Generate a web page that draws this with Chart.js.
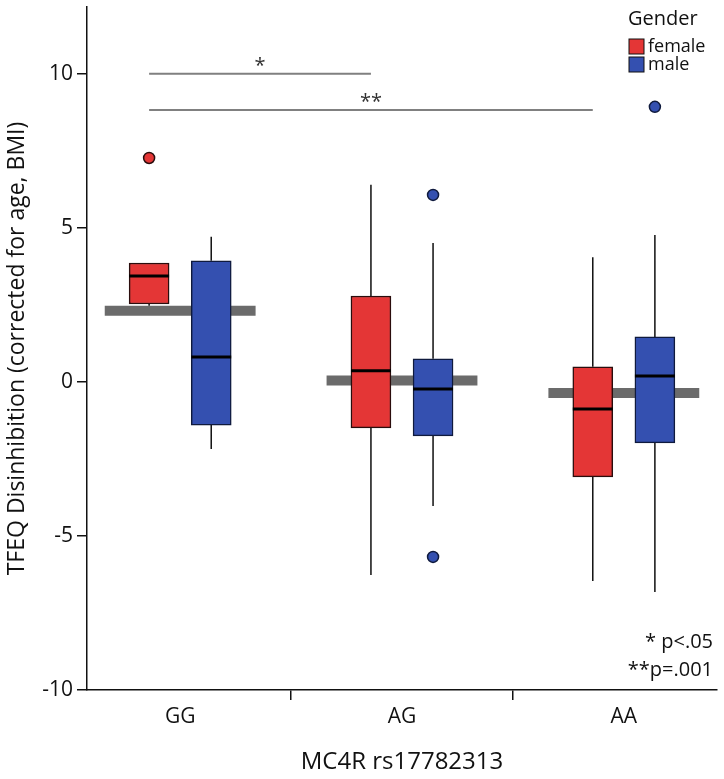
<!DOCTYPE html>
<html>
<head>
<meta charset="utf-8">
<script src="https://cdn.jsdelivr.net/npm/chart.js@4.4.1/dist/chart.umd.min.js"></script>
<style>
    html, body { margin: 0; padding: 0; background: #fff; }
    #chart { display: block; }
</style>
</head>
<body>
<canvas id="chart" width="724" height="779"></canvas>
<script>
// genotype groups
const categories = ['GG', 'AG', 'AA'];
const yTickValues = [-10, -5, 0, 5, 10];

// female boxes
const femaleMin = [2.47, -6.27, -6.46];
const femaleQ1 = [2.53, -1.49, -3.08];
const femaleMedian = [3.44, 0.36, -0.88];
const femaleQ3 = [3.86, 2.79, 0.49];
const femaleMax = [3.86, 6.40, 4.05];
const femaleOutliers = [[7.27], [], []];

// male boxes
const maleMin = [-2.18, -4.03, -6.82];
const maleQ1 = [-1.40, -1.75, -1.98];
const maleMedian = [0.81, -0.23, 0.19];
const maleQ3 = [3.93, 0.75, 1.46];
const maleMax = [4.71, 4.51, 4.77];
const maleOutliers = [[], [6.07, -5.68], [8.93]];

// grey group bars
const groupMeans = [2.31, 0.05, -0.36];

// significance brackets (female GG vs female AG / AA)
const sigFrom = [0, 0];
const sigTo = [1, 2];
const sigLevel = [10.0, 8.83];
const sigLabel = ['*', '**'];
const pNotes = ['* p<.05', '**p=.001'];

const RED = '#e43636';
const BLUE = '#3450b0';
const FONT = "'Open Sans', 'DejaVu Sans', sans-serif";
const SHIFT = 0.14, HALF = 0.09, BAR_HALF = 0.34;

const pos = (i, s) => i + 1 + s;

function boxData(q1, q3, s) {
    return categories.map((c, i) => ({ x: pos(i, s), y: [q1[i], q3[i]] }));
}
function whiskerData(lo, q1, q3, hi, s) {
    const out = [];
    categories.forEach((c, i) => {
        out.push({ x: pos(i, s), y: q3[i] }, { x: pos(i, s), y: hi[i] }, { x: pos(i, s), y: null });
        out.push({ x: pos(i, s), y: q1[i] }, { x: pos(i, s), y: lo[i] }, { x: pos(i, s), y: null });
    });
    return out;
}
function hSegs(vals, s, half) {
    const out = [];
    vals.forEach((v, i) => {
        out.push({ x: pos(i, s) - half, y: v }, { x: pos(i, s) + half, y: v }, { x: pos(i, s), y: null });
    });
    return out;
}
function outlierData(list, s) {
    const out = [];
    list.forEach((arr, i) => arr.forEach(v => out.push({ x: pos(i, s), y: v })));
    return out;
}
const sigData = [];
sigFrom.forEach((f, k) => {
    sigData.push({ x: pos(f, -SHIFT), y: sigLevel[k] }, { x: pos(sigTo[k], -SHIFT), y: sigLevel[k] }, { x: 1, y: null });
});

const segLine = (data, color, width, order) => ({
    type: 'line', data, borderColor: color, borderWidth: width, pointRadius: 0,
    spanGaps: false, tension: 0, fill: false, order, borderCapStyle: 'butt'
});

const overlay = {
    id: 'overlay',
    afterDraw(chart) {
        const { ctx, scales: { x, y } } = chart;
        ctx.save();
        // star labels above brackets
        ctx.fillStyle = '#333';
        ctx.font = '20px ' + FONT;
        ctx.textAlign = 'center';
        ctx.textBaseline = 'bottom';
        sigFrom.forEach((f, k) => {
            const mid = (pos(f, -SHIFT) + pos(sigTo[k], -SHIFT)) / 2;
            ctx.fillText(sigLabel[k], x.getPixelForValue(mid), y.getPixelForValue(sigLevel[k]) + 2);
        });
        // p-value notes
        ctx.fillStyle = '#111';
        ctx.font = '20px ' + FONT;
        ctx.textAlign = 'right';
        ctx.textBaseline = 'middle';
        pNotes.forEach((t, k) => ctx.fillText(t, chart.chartArea.right - 4, chart.chartArea.bottom - 48 + k * 28));
        // legend
        const lx = chart.chartArea.right - 89;
        ctx.textAlign = 'left';
        ctx.font = '20px ' + FONT;
        ctx.fillText('Gender', lx, 19);
        ctx.font = '18px ' + FONT;
        [['female', RED], ['male', BLUE]].forEach(([name, col], k) => {
            const cy = 47 + k * 18;
            ctx.fillStyle = col;
            ctx.fillRect(lx + 1, cy - 8, 15, 15);
            ctx.strokeStyle = '#111';
            ctx.lineWidth = 1;
            ctx.strokeRect(lx + 1, cy - 8, 15, 15);
            ctx.fillStyle = '#111';
            ctx.fillText(name, lx + 20, cy);
        });
        ctx.restore();
    }
};

new Chart(document.getElementById('chart'), {
    type: 'bar',
    data: {
        datasets: [
            { type: 'bar', data: boxData(femaleQ1, femaleQ3, -SHIFT), backgroundColor: RED, borderColor: '#2a0d0d',
              borderWidth: 1.5, borderSkipped: false, barThickness: 40, grouped: false, order: 2 },
            { type: 'bar', data: boxData(maleQ1, maleQ3, SHIFT), backgroundColor: BLUE, borderColor: '#0f1a3d',
              borderWidth: 1.5, borderSkipped: false, barThickness: 40, grouped: false, order: 2 },
            segLine(hSegs(groupMeans, 0, BAR_HALF), '#6b6b6b', 10, 4),
            segLine(whiskerData(femaleMin, femaleQ1, femaleQ3, femaleMax, -SHIFT), '#111', 1.5, 3),
            segLine(whiskerData(maleMin, maleQ1, maleQ3, maleMax, SHIFT), '#111', 1.5, 3),
            segLine(hSegs(femaleMedian, -SHIFT, HALF), '#000', 3, 1),
            segLine(hSegs(maleMedian, SHIFT, HALF), '#000', 3, 1),
            segLine(sigData, '#808080', 2, 5),
            { type: 'scatter', data: outlierData(femaleOutliers, -SHIFT), pointRadius: 5.5, backgroundColor: RED,
              borderColor: '#2a0d0d', borderWidth: 1.5, order: 0 },
            { type: 'scatter', data: outlierData(maleOutliers, SHIFT), pointRadius: 5.5, backgroundColor: BLUE,
              borderColor: '#0f1a3d', borderWidth: 1.5, order: 0 }
        ]
    },
    options: {
        responsive: false,
        animation: false,
        layout: { padding: { top: 7, right: 6, left: 0, bottom: 0 } },
        plugins: { legend: { display: false }, tooltip: { enabled: false } },
        scales: {
            x: {
                type: 'linear', min: 0.58, max: 3.42, offset: false,
                afterBuildTicks: s => { s.ticks = categories.map((c, i) => ({ value: i + 1 })); },
                afterFit: s => { s.height = 89; s.paddingLeft = 0; s.paddingRight = 0; },
                ticks: { callback: v => categories[v - 1], color: '#111', font: { family: FONT, size: 21 }, padding: 4, maxRotation: 0 },
                grid: { drawOnChartArea: false, tickLength: 10, color: '#111', lineWidth: 1.5 },
                border: { color: '#111', width: 1.5 },
                title: { display: true, text: 'MC4R rs17782313', color: '#111', font: { family: FONT, size: 24 }, padding: { top: 10, bottom: 2 } }
            },
            y: {
                type: 'linear', min: -10, max: 12.17,
                afterBuildTicks: s => { s.ticks = yTickValues.map(v => ({ value: v })); },
                afterFit: s => { s.width = 87; s.paddingTop = 0; s.paddingBottom = 0; },
                ticks: { color: '#111', font: { family: FONT, size: 21 }, padding: 4 },
                grid: { drawOnChartArea: false, tickLength: 10, color: '#111', lineWidth: 1.5 },
                border: { color: '#111', width: 1.5 },
                title: { display: true, text: 'TFEQ Disinhibition (corrected for age, BMI)', color: '#111', font: { family: FONT, size: 23 }, padding: { top: 4, bottom: 4 } }
            }
        }
    },
    plugins: [overlay]
});
</script>
</body>
</html>
